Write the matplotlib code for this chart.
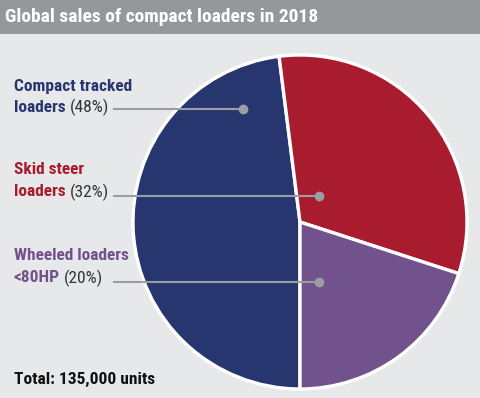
import matplotlib
matplotlib.use("Agg")
import matplotlib.pyplot as plt
from matplotlib.patches import Rectangle

categories = ["Compact tracked\nloaders", "Skid steer\nloaders", "Wheeled loaders\n<80HP"]
shares = [48, 32, 20]
colors = ["#283670", "#a91b2e", "#72528c"]
title = "Global sales of compact loaders in 2018"
total_text = "Total: 135,000 units"

W, H = 480, 398
fig = plt.figure(figsize=(W / 100, H / 100), dpi=100)
fig.patch.set_facecolor("#e7e8ea")

def fx(x):
    return x / W

def fy(y):
    return 1 - y / H

# title bar
fig.patches.append(Rectangle((0, fy(34)), 1, 34 / H, transform=fig.transFigure,
                             facecolor="#95989b", edgecolor="none", zorder=0))
NARROW = ["Roboto Condensed", "DejaVu Sans"]
fig.text(fx(5), fy(17), title, color="white", fontsize=14, fontweight="bold",
         family=NARROW, va="center", ha="left")

# pie axes
cx, cy, r = 300, 222, 167
half = 172
ax = fig.add_axes([fx(cx - half), fy(cy + half), 2 * half / W, 2 * half / H])
ax.set_facecolor("none")
ax.pie(shares, colors=colors, startangle=270, counterclock=False,
       wedgeprops=dict(edgecolor="white", linewidth=2.4))
lim = half / r
ax.set_xlim(-lim, lim)
ax.set_ylim(-lim, lim)
ax.set_aspect("equal")
ax.axis("off")

# labels with leader lines
label_rows = [(86, 107, 243, 109), (170, 192, 319, 196), (256, 278, 319, 282)]
for (cat, share, col, (y1, y2, dx, dy)) in zip(categories, shares, colors, label_rows):
    first, second = cat.split("\n")
    fig.text(fx(14), fy(y1), first, color=col, fontsize=12.5, fontweight="bold",
             family=NARROW, va="center", ha="left")
    t = fig.text(fx(14), fy(y2), second, color=col, fontsize=12.5, fontweight="bold",
                 family=NARROW, va="center", ha="left")
    fig.canvas.draw()
    bb = t.get_window_extent()
    fig.text((bb.x1 + 4) / W, fy(y2), f"({share}%)", color="#333333", fontsize=12.5,
             family=NARROW, va="center", ha="left")
    x0d = (114 - cx) / r
    x1d = (dx - cx) / r
    yd = (cy - dy) / r
    ax.plot([x0d, x1d], [yd, yd], color="#9a9ea3", lw=1.5, clip_on=False, zorder=5)
    ax.plot([x1d], [yd], "o", color="#9a9ea3", ms=6, clip_on=False, zorder=6)

fig.text(fx(14), fy(379), total_text, color="#111111", fontsize=12.5, fontweight="bold",
         family=NARROW, va="center", ha="left")

fig.savefig("out.png", dpi=100, facecolor=fig.get_facecolor())
